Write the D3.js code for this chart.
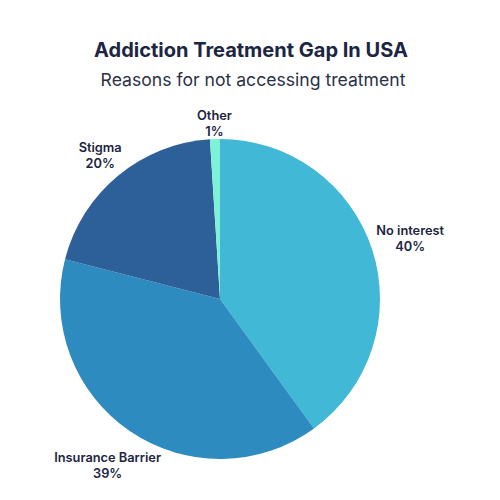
<!DOCTYPE html>
<html>
<head>
<meta charset="utf-8">
<script src="https://cdn.jsdelivr.net/npm/d3@7"></script>
<style>
  body { margin: 0; background: #fff; }
</style>
</head>
<body>
<div id="chart"></div>
<script>
// Data
const categories = ['No interest', 'Insurance Barrier', 'Stigma', 'Other'];
const shares = [40, 39, 20, 1];
const sliceColors = ['#41b8d5', '#2e8bc0', '#2d5f99', '#7ef2d6'];

width = 500;
height = 500;
center = ({x: 220, y: 299});
radius = 160;

const data = categories.map((c, i) => ({name: c, value: shares[i], color: sliceColors[i]}));

const svg = d3.select('#chart').append('svg')
    .attr('width', width)
    .attr('height', height)
    .attr('font-family', 'Inter, "Noto Sans", sans-serif');

// Titles
svg.append('text')
    .attr('x', 251)
    .attr('y', 57)
    .attr('text-anchor', 'middle')
    .attr('font-size', 20)
    .attr('font-weight', 'bold')
    .attr('fill', '#1c2541')
    .text('Addiction Treatment Gap In USA');

svg.append('text')
    .attr('x', 253)
    .attr('y', 86)
    .attr('text-anchor', 'middle')
    .attr('font-size', 17.6)
    .attr('fill', '#2a3147')
    .text('Reasons for not accessing treatment');

const pie = d3.pie().sort(null).value(d => d.value);
const arc = d3.arc().innerRadius(0).outerRadius(radius);
const arcs = pie(data);

const g = svg.append('g')
    .attr('transform', `translate(${center.x},${center.y})`);

g.selectAll('path')
    .data(arcs)
    .join('path')
    .attr('d', arc)
    .attr('fill', d => d.data.color);

// Labels outside the slices (small slices / upper-left pulled in a bit)
const labelRadius = d => {
    const a = (d.startAngle + d.endAngle) / 2;
    if (d.data.value < 5) return 177;
    if (a > 1.5 * Math.PI) return 188;
    return 200;
};

const labels = g.selectAll('g.label')
    .data(arcs)
    .join('g')
    .attr('class', 'label')
    .attr('transform', d => {
        const r = labelRadius(d);
        const a = (d.startAngle + d.endAngle) / 2;
        return `translate(${r * Math.sin(a)},${-r * Math.cos(a)})`;
    })
    .attr('text-anchor', 'middle')
    .attr('font-size', 12.8)
    .attr('font-weight', 600)
    .attr('fill', '#1c2541');

labels.append('text')
    .attr('y', -2)
    .text(d => d.data.name);

labels.append('text')
    .attr('y', 14)
    .text(d => d.data.value + '%');
</script>
</body>
</html>
